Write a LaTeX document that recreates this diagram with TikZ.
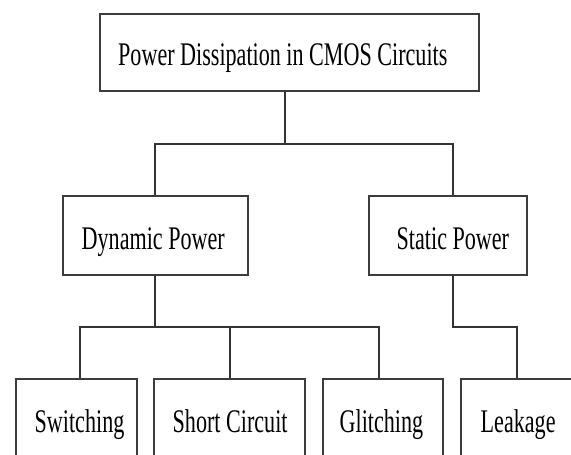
\documentclass[tikz,border=0pt]{standalone}
\usepackage{fontspec}
\setmainfont{Liberation Serif}[FakeStretch=0.67]
\definecolor{boxgray}{HTML}{3C3C3C}
\definecolor{wiregray}{HTML}{333333}
\begin{document}
\begin{tikzpicture}[x=1pt,y=-1pt,
  box/.style={draw=boxgray, line width=1.5pt, inner sep=0pt, fill=white},
  lbl/.style={inner sep=0pt, anchor=base west, text=black,
              font=\fontsize{33}{36}\selectfont},
  wire/.style={draw=wiregray, line width=1.1pt}]
\clip (0,0) rectangle (571,455);
\fill[white] (0,0) rectangle (571,455);

% boxes
\node[box, minimum width=379pt, minimum height=77pt] (top)  at (289.5,52.5) {};
\node[box, minimum width=185pt, minimum height=79pt] (dyn)  at (155.3,235.5) {};
\node[box, minimum width=158pt, minimum height=79pt] (stat) at (448,235.5) {};
\node[box, minimum width=121pt, minimum height=101pt] (sw)  at (76.5,429.5) {};
\node[box, minimum width=151pt, minimum height=101pt] (sc)  at (229.5,429.5) {};
\node[box, minimum width=120pt, minimum height=101pt] (gl)  at (383,429.5) {};
\node[box, minimum width=129pt, minimum height=101pt] (lk)  at (525.5,429.5) {};

% labels
\node[lbl] (topT)  at (118,65)    {Power Dissipation in CMOS Circuits};
\node[lbl] (dynT)  at (81.5,249)  {Dynamic Power};
\node[lbl] (statT) at (396.5,249) {Static Power};
\node[lbl] (swT)   at (34.5,432.5) {Switching};
\node[lbl] (scT)   at (172.5,432.5) {Short Circuit};
\node[lbl] (glT)   at (339.5,432.5) {Glitching};
\node[lbl] (lkT)   at (480.5,432.5) {Leakage};

% junction points of the tree
\coordinate (t1) at (285,144);
\coordinate (d1) at (155,144);
\coordinate (s1) at (453,144);
\coordinate (d2) at (155,327);
\coordinate (b1) at (80,327);
\coordinate (b2) at (230,327);
\coordinate (b3) at (379,327);
\coordinate (s2) at (453,327);
\coordinate (l2) at (517,327);

% connectors
\draw[wire] (top.south -| t1) -- (t1);
\draw[wire] (dyn.north -| d1) -- (d1) -- (s1) -- (stat.north -| s1);
\draw[wire] (dyn.south -| d2) -- (d2);
\draw[wire] (sw.north -| b1) -- (b1) -- (b3) -- (gl.north -| b3);
\draw[wire] (b2) -- (sc.north -| b2);
\draw[wire] (stat.south -| s2) -- (s2) -- (l2) -- (lk.north -| l2);
\end{tikzpicture}
\end{document}
